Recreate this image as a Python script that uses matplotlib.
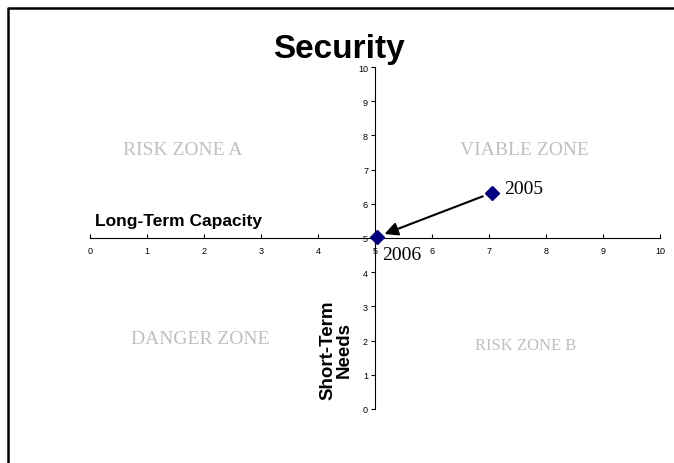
import matplotlib.pyplot as plt
from matplotlib.lines import Line2D

# data
years = ['2005', '2006']
long_term = [7.05, 5.03]
short_term = [6.32, 5.03]
zones = ['RISK ZONE A', 'VIABLE ZONE', 'DANGER ZONE', 'RISK ZONE B']
zone_x = [1.63, 7.63, 1.93, 7.65]
zone_y = [7.6, 7.6, 2.05, 1.87]
zone_size = [14, 14, 14, 12]
ticks = list(range(0, 11))

sans = ['Liberation Sans', 'DejaVu Sans']
serif = ['Liberation Serif', 'DejaVu Serif']
plt.rcParams['font.family'] = sans

fig = plt.figure(figsize=(6.74, 4.64), dpi=100)
ax = fig.add_axes([90/674, 54/464, 570/674, 342/464])
ax.set_xlim(0, 10)
ax.set_ylim(0, 10)
ax.set_xticks(ticks)
ax.set_yticks(ticks)

ax.spines['left'].set_position(('data', 5))
ax.spines['bottom'].set_position(('data', 5))
ax.spines['top'].set_visible(False)
ax.spines['right'].set_visible(False)
ax.spines['left'].set_linewidth(0.8)
ax.spines['bottom'].set_linewidth(0.8)
ax.tick_params(axis='both', labelsize=6.5, width=0.8, length=3, pad=2)
ax.tick_params(axis='x', direction='in', pad=6)

# zone labels
for name, zx, zy, zs in zip(zones, zone_x, zone_y, zone_size):
    ax.text(zx, zy, name, family=serif, fontsize=zs, color='#c0c0c0',
            ha='center', va='center')

# points and arrow
ax.plot(long_term, short_term, linestyle='none', marker='D', markersize=7,
        color='#000080', zorder=5)
ax.annotate('', xy=(long_term[1], short_term[1]), xytext=(long_term[0], short_term[0]),
            arrowprops=dict(arrowstyle='-|>', mutation_scale=20, lw=1.5, color='black',
                            shrinkA=7, shrinkB=6), zorder=4)
ax.annotate(years[0], (long_term[0], short_term[0]), xytext=(12, 4),
            textcoords='offset pixels', family=serif, fontsize=14, va='center')
ax.annotate(years[1], (long_term[1], short_term[1]), xytext=(5, -18),
            textcoords='offset pixels', family=serif, fontsize=14, va='center')

# axis titles
ax.text(0.09, 5.5, 'Long-Term Capacity', fontsize=12.5, fontweight='bold',
        ha='left', va='center')
ax.text(4.32, 1.75, 'Short-Term\nNeeds', fontsize=13.5, fontweight='bold',
        rotation=90, ha='center', va='center', linespacing=1.0)

fig.text(0.503, 1 - 58/464, 'Security', fontsize=24, fontweight='bold',
         ha='center', va='baseline')

# chart frame
fig.add_artist(Line2D([7.5/674, 7.5/674, 1], [0, 1 - 8.5/464, 1 - 8.5/464],
                      transform=fig.transFigure, color='black', lw=1.8))

fig.savefig('out.png', dpi=100)
